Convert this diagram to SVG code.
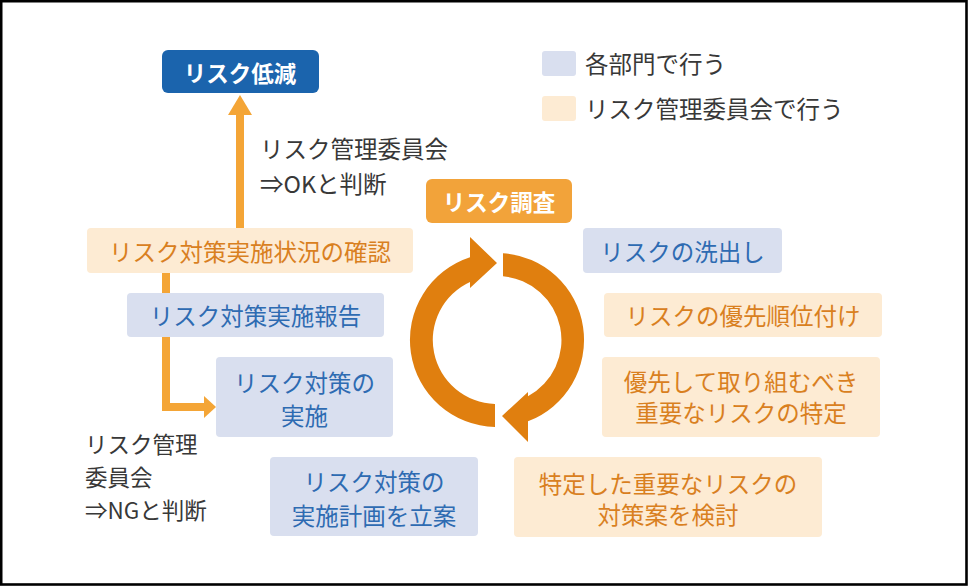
<svg xmlns="http://www.w3.org/2000/svg" width="968" height="586" viewBox="0 0 968 586">
<style>
text{font-family:"Noto Sans CJK JP","Noto Sans",sans-serif;font-size:23.5px;dominant-baseline:central}
.c{text-anchor:middle}
.bt{fill:#2E6BB2}
.ot{fill:#D9801F}
.dt{fill:#383838}
.ng{font-size:22.5px}
.wt{fill:#FFFFFF;font-weight:bold;font-size:22.5px}
.bb{fill:#D9DFEF}
.ob{fill:#FDEBD3}
.conn{fill:none;stroke:#F4A536;stroke-width:8}
.cyc{fill:#E07F0F}
</style>
<rect x="0" y="0" width="968" height="586" fill="#FFFFFF"/>
<rect x="1.2" y="1.2" width="965.3" height="583.3" fill="none" stroke="#000" stroke-width="2.6"/>

<g id="connectors">
  <path class="conn" d="M240 228 V112"/>
  <polygon points="240,95 252,115 228,115" fill="#F4A536"/>
  <path class="conn" d="M166 273 V293"/>
  <path class="conn" d="M166 337 V407 H206"/>
  <polygon points="216,407 204,396 204,418" fill="#F4A536"/>
</g>

<g id="cycle">
  <path class="cyc" d="M495 427 A87 87 0 0 1 470 257.3 L470 237 L497 263 L470 288 L470 281.9 A64 64 0 0 0 495 404 Z"/>
  <path class="cyc" d="M503 253.2 A87 87 0 0 1 528 421.3 L528 442 L502 416 L528 392 L528 396.3 A64 64 0 0 0 503 276.3 Z"/>
</g>

<g id="legend">
  <rect x="542" y="51" width="34" height="25" rx="3" class="bb"/>
  <text x="585" y="63" class="dt">各部門で行う</text>
  <rect x="542" y="96" width="34" height="25" rx="3" class="ob"/>
  <text x="585" y="108" class="dt">リスク管理委員会で行う</text>
</g>

<g id="n-reduce">
  <rect x="162" y="50" width="157" height="43" rx="6" fill="#1B64AD"/>
  <text x="240" y="71.5" class="c wt">リスク低減</text>
</g>

<g id="n-survey">
  <rect x="426" y="179" width="146" height="44" rx="6" fill="#F2A33A"/>
  <text x="499" y="201" class="c wt">リスク調査</text>
</g>

<g id="t-ok">
  <text x="260" y="147.5" class="dt">リスク管理委員会</text>
  <text x="260" y="182.5" class="dt">⇒OKと判断</text>
</g>

<g id="n-check">
  <rect x="87" y="228" width="326" height="45" rx="4" class="ob"/>
  <text x="250" y="250.5" class="c ot">リスク対策実施状況の確認</text>
</g>

<g id="n-report">
  <rect x="127" y="293" width="257" height="44" rx="4" class="bb"/>
  <text x="255.5" y="315" class="c bt">リスク対策実施報告</text>
</g>

<g id="n-implement">
  <rect x="216" y="357" width="177" height="80" rx="4" class="bb"/>
  <text x="304.5" y="382" class="c bt">リスク対策の</text>
  <text x="304.5" y="415" class="c bt">実施</text>
</g>

<g id="t-ng">
  <text x="85" y="443" class="dt ng">リスク管理</text>
  <text x="85" y="476" class="dt ng">委員会</text>
  <text x="85" y="509" class="dt ng">⇒NGと判断</text>
</g>

<g id="n-plan">
  <rect x="270" y="457" width="208" height="79" rx="4" class="bb"/>
  <text x="374" y="481" class="c bt">リスク対策の</text>
  <text x="374" y="515" class="c bt">実施計画を立案</text>
</g>

<g id="n-identify">
  <rect x="583" y="228" width="199" height="45" rx="4" class="bb"/>
  <text x="682.5" y="250.5" class="c bt">リスクの洗出し</text>
</g>

<g id="n-priority">
  <rect x="604" y="293" width="278" height="44" rx="4" class="ob"/>
  <text x="743" y="315" class="c ot">リスクの優先順位付け</text>
</g>

<g id="n-specify">
  <rect x="602" y="357" width="278" height="80" rx="4" class="ob"/>
  <text x="741" y="381" class="c ot">優先して取り組むべき</text>
  <text x="741" y="412" class="c ot">重要なリスクの特定</text>
</g>

<g id="n-consider">
  <rect x="514" y="457" width="308" height="80" rx="4" class="ob"/>
  <text x="668" y="482.5" class="c ot">特定した重要なリスクの</text>
  <text x="668" y="514" class="c ot">対策案を検討</text>
</g>
</svg>
